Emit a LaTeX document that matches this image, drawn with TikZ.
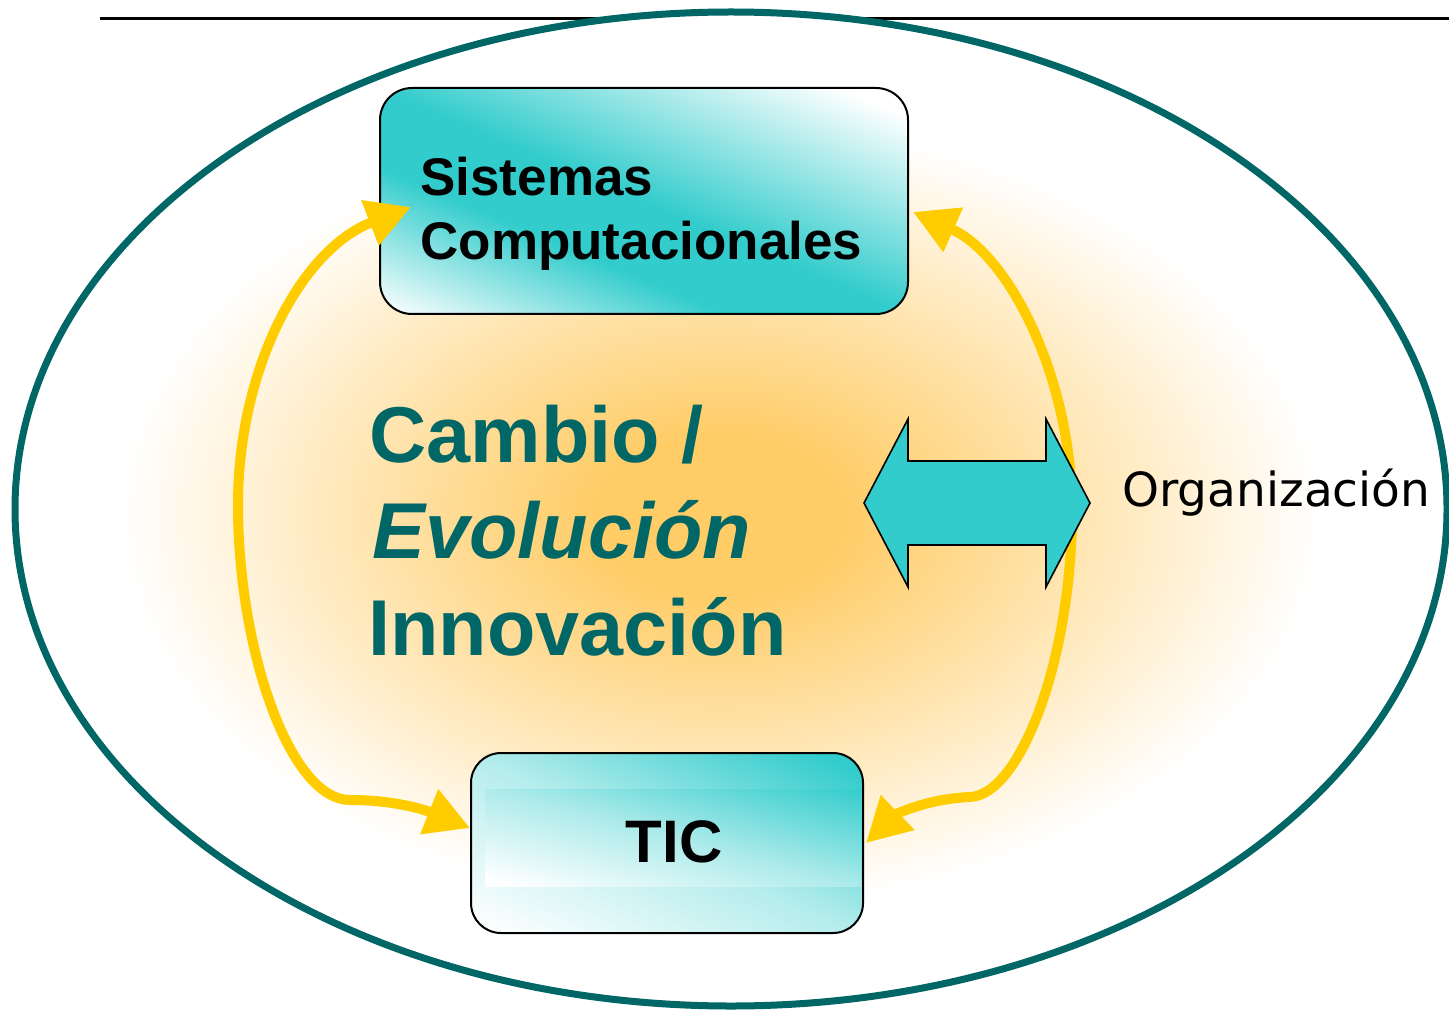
\documentclass[tikz,border=0pt]{standalone}
\usepackage{fontspec}
\setmainfont{Liberation Sans}
\newfontfamily\orgfont{DejaVu Sans}
\usetikzlibrary{arrows.meta}

\definecolor{boxteal}{RGB}{51,204,204}
\definecolor{rimteal}{RGB}{0,102,102}
\definecolor{glowc}{RGB}{255,204,102}
\definecolor{loopyellow}{RGB}{255,204,0}

\pgfdeclarehorizontalshading{sysshade}{100bp}{color(0bp)=(white); color(16bp)=(white); color(38bp)=(boxteal); color(50bp)=(boxteal); color(80bp)=(white); color(100bp)=(white)}
\pgfdeclarehorizontalshading{ticshade}{100bp}{color(0bp)=(white); color(24bp)=(white); color(50bp)=(boxteal!37!white); color(74bp)=(boxteal); color(100bp)=(boxteal)}
\pgfdeclarehorizontalshading{bandshade}{100bp}{color(0bp)=(white); color(30bp)=(white); color(50bp)=(boxteal!40!white); color(72bp)=(boxteal); color(100bp)=(boxteal)}
\pgfdeclareradialshading{glowshade}{\pgfpoint{0bp}{0bp}}{color(0bp)=(glowc); color(5bp)=(glowc); color(13bp)=(glowc!60!white); color(25bp)=(white); color(50bp)=(white)}

\tikzset{
  sysbox/.style={draw=black, line width=1pt, rounded corners=16pt, minimum width=264pt, minimum height=113pt, inner sep=0pt,
    path picture={\node[rotate=67, scale=3, inner sep=0pt] (sysfill) at (path picture bounding box.center) {\pgfuseshading{sysshade}};}},
  ticbox/.style={draw=black, line width=1pt, rounded corners=15pt, minimum width=196pt, minimum height=90pt, inner sep=0pt,
    path picture={\node[rotate=65, scale=3, inner sep=0pt] (ticfill) at (path picture bounding box.center) {\pgfuseshading{ticshade}};}},
  boxlabel/.style={font=\bfseries\fontsize{26.5pt}{32pt}\selectfont, inner sep=0pt, anchor=base west},
  biglabel/.style={font=\bfseries\fontsize{39.6pt}{48pt}\selectfont, text=rimteal, inner sep=0pt, anchor=base west},
  loopline/.style={draw=loopyellow, line width=5pt,
    {Triangle[length=22pt,width=23pt]}-{Triangle[length=22pt,width=23pt]}},
  dblarrow/.style={draw=black, line width=0.8pt, fill=boxteal, line join=miter}
}

\begin{document}
\begin{tikzpicture}[x=0.5pt,y=-0.5pt]
\useasboundingbox (0,0) rectangle (1449,1010);
\draw[line width=1.5pt] (100,19) -- (1449,19); % rule at the top
% the organisation
\fill[white] (731,509) ellipse [x radius=358pt, y radius=248.5pt];
\shade[shading=glowshade] (720,515) ellipse [x radius=300pt, y radius=195pt];
\draw[rimteal, line width=3.5pt] (731,509) ellipse [x radius=358pt, y radius=248.5pt];
% the two boxes
\node[sysbox] (sys) at (644,201) {};
\node[ticbox] (tic) at (667,843) {};
\path[path picture={\node[rotate=75, scale=2.2, inner sep=0pt] (bandfill) at (path picture bounding box.center) {\pgfuseshading{bandshade}};}]
  (485,789) rectangle (861,886); % light band in TIC
\node[boxlabel] (sys1) at (420,196) {Sistemas};
\node[boxlabel] (sys2) at (420,260) {Computacionales};
\node[font=\bfseries\fontsize{30pt}{36pt}\selectfont, inner sep=0pt, anchor=base] (tictxt) at (674,862) {TIC};
% middle text
\node[biglabel] (cambio) at (369,462) {Cambio /};
\node[biglabel, font=\bfseries\itshape\fontsize{39.6pt}{48pt}\selectfont] (evol) at (372,558) {Evolución};
\node[biglabel] (innov) at (368,655) {Innovación};
\node[font=\orgfont\fontsize{23.5pt}{28pt}\selectfont, inner sep=0pt, anchor=base west] (org) at (1122,506) {Organización};
% yellow loops
\draw[loopline] ([yshift=7.5pt]tic.west) .. controls (430,812) and (400,800) .. (350,800)
  .. controls (290,800) and (238,650) .. (238,505)
  .. controls (238,370) and (300,250) .. ([xshift=16pt,yshift=-3pt]sys.west);
\draw[loopline] ([xshift=2pt,yshift=-5.5pt]sys.east) .. controls (1010,255) and (1072,380) .. (1072,510)
  .. controls (1072,660) and (1020,795) .. (970,797)
  .. controls (925,799) and (895,815) .. ([xshift=1pt]tic.east);
% double arrow
\draw[dblarrow] (864,503) -- (908,419) -- (908,461) -- (1046,461) -- (1046,419) -- (1090,503)
  -- (1046,587) -- (1046,545) -- (908,545) -- (908,587) -- cycle;
\end{tikzpicture}
\end{document}
